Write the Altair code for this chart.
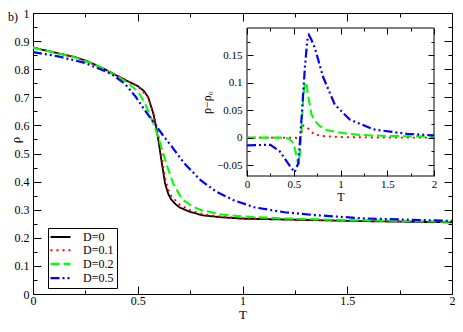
import altair as alt
import pandas as pd

SERIF = "Liberation Serif"
SERIES = ["D=0", "D=0.1", "D=0.2", "D=0.5"]
COLORS = ["#000000", "#ff0000", "#00ff00", "#0000ff"]
DASHES = [[1, 0], [2, 4], [9, 4], [9, 3, 2, 3, 2, 3]]
WIDTHS = [1.8, 2.2, 2.5, 2.5]

# ---- main panel: rho(T) ----
T_D0 = [0, 0.1, 0.2, 0.25, 0.3, 0.35, 0.4, 0.45, 0.5, 0.53, 0.55, 0.575, 0.59, 0.6,
        0.615, 0.63, 0.645, 0.66, 0.68, 0.7, 0.75, 0.81, 0.9, 1.0, 1.2, 1.4, 1.6, 1.8, 2.0]
RHO_D0 = [0.877, 0.860, 0.843, 0.831, 0.815, 0.797, 0.777, 0.758, 0.740, 0.722, 0.700,
          0.640, 0.585, 0.540, 0.465, 0.395, 0.357, 0.336, 0.320, 0.308, 0.292, 0.280,
          0.273, 0.268, 0.265, 0.262, 0.259, 0.257, 0.255]

T_D01 = [0, 0.1, 0.2, 0.3, 0.4, 0.5, 0.55, 0.575, 0.59, 0.6, 0.615, 0.63, 0.645, 0.66,
         0.7, 0.75, 0.81, 0.9, 1.0, 1.2, 1.5, 2.0]
RHO_D01 = [0.877, 0.860, 0.843, 0.815, 0.777, 0.740, 0.699, 0.642, 0.595, 0.558, 0.487,
           0.415, 0.372, 0.349, 0.318, 0.298, 0.284, 0.275, 0.270, 0.266, 0.261, 0.256]

T_D02 = [0, 0.1, 0.2, 0.3, 0.4, 0.45, 0.5, 0.53, 0.55, 0.58, 0.6, 0.62, 0.64, 0.67, 0.7,
         0.72, 0.76, 0.8, 0.9, 1.0, 1.2, 1.5, 2.0]
RHO_D02 = [0.877, 0.859, 0.842, 0.815, 0.775, 0.752, 0.722, 0.685, 0.652, 0.597, 0.553,
           0.505, 0.455, 0.392, 0.352, 0.333, 0.312, 0.299, 0.283, 0.276, 0.269, 0.263, 0.257]

T_D05 = [0, 0.125, 0.25, 0.375, 0.44, 0.49, 0.53, 0.58, 0.62, 0.66, 0.72, 0.8, 0.875,
         0.96, 1.06, 1.2, 1.34, 1.58, 1.9, 2.0]
RHO_D05 = [0.861, 0.845, 0.822, 0.783, 0.747, 0.702, 0.658, 0.607, 0.565, 0.527, 0.467,
           0.405, 0.364, 0.333, 0.308, 0.291, 0.281, 0.269, 0.262, 0.260]

# ---- inset: rho - rho0 ----
IT_D01 = [0, 0.25, 0.5, 0.55, 0.57, 0.6, 0.63, 0.67, 0.72, 0.8, 1.0, 1.5, 2.0]
IDR_D01 = [0, 0, 0, -0.001, -0.002, 0.022, 0.020, 0.014, 0.006, 0.003, 0.001, 0.0, 0.0]

IT_D02 = [0, 0.2, 0.4, 0.45, 0.5, 0.53, 0.55, 0.565, 0.578, 0.6, 0.615, 0.63, 0.645,
          0.66, 0.69, 0.73, 0.78, 0.85, 1.0, 1.2, 1.5, 2.0]
IDR_D02 = [0, 0, 0, -0.002, -0.010, -0.035, -0.050, -0.030, 0.0, 0.069, 0.095, 0.101,
           0.088, 0.070, 0.042, 0.030, 0.021, 0.014, 0.009, 0.005, 0.003, 0.002]

IT_D05 = [0, 0.25, 0.35, 0.46, 0.51, 0.55, 0.585, 0.62, 0.645, 0.663, 0.69, 0.727, 0.813,
          0.94, 1.1, 1.35, 1.71, 2.0]
IDR_D05 = [-0.014, -0.013, -0.025, -0.052, -0.063, -0.046, 0.039, 0.130, 0.178, 0.187,
           0.178, 0.163, 0.111, 0.060, 0.033, 0.015, 0.007, 0.004]

# ---- ticks / domains ----
X_MAJOR = [0, 0.5, 1, 1.5, 2]
X_MINOR = [0.25, 0.75, 1.25, 1.75]
Y_MAJOR = [0, 0.1, 0.2, 0.3, 0.4, 0.5, 0.6, 0.7, 0.8, 0.9, 1.0]
Y_MINOR = [0.05, 0.15, 0.25, 0.35, 0.45, 0.55, 0.65, 0.75, 0.85, 0.95]
IY_MAJOR = [-0.05, 0, 0.05, 0.1, 0.15]
IY_MINOR = [-0.025, 0.025, 0.075, 0.125, 0.175]
MAIN_X_DOMAIN = [0, 2]
MAIN_Y_DOMAIN = [0, 1]
INSET_X_DOMAIN = [0, 2]
INSET_Y_DOMAIN = [-0.07, 0.2]

# layout (pixels, plot coordinates; plot origin sits at page (33, 13))
W, H = 419, 281
INSET_XR = [214, 401]
INSET_YR = [163, 15]


def long(pairs):
    rows = []
    for name, ts, vs in pairs:
        for t, v in zip(ts, vs):
            rows.append({"series": name, "T": t, "v": v})
    return pd.DataFrame(rows)


main_df = long([("D=0", T_D0, RHO_D0), ("D=0.1", T_D01, RHO_D01),
                ("D=0.2", T_D02, RHO_D02), ("D=0.5", T_D05, RHO_D05)])
inset_df = long([("D=0.1", IT_D01, IDR_D01), ("D=0.2", IT_D02, IDR_D02),
                 ("D=0.5", IT_D05, IDR_D05)])
frame_df = pd.DataFrame({"x0": [INSET_X_DOMAIN[0]], "x1": [INSET_X_DOMAIN[1]],
                         "y0": [INSET_Y_DOMAIN[0]], "y1": [INSET_Y_DOMAIN[1]]})


def axis(orient, offset, size, values, labels=False, fs=12, fmt=".1~f", pad=0,
         title=None, tfs=13, tpad=0, **extra):
    kw = dict(orient=orient, offset=offset, tickSize=size, values=values, labels=labels,
              domain=False, grid=False, ticks=True, tickColor="black", tickWidth=1,
              zindex=1, title=title)
    if labels:
        kw.update(format=fmt, labelFontSize=fs, labelPadding=pad, labelFont=SERIF,
                  labelColor="black", labelFlush=False, labelOverlap=False)
    if title is not None:
        kw.update(titleFont=SERIF, titleFontSize=tfs, titlePadding=tpad,
                  titleFontWeight="normal", titleColor="black")
    kw.update(extra)
    return alt.Axis(**kw)


def sx_main():
    return alt.Scale(domain=MAIN_X_DOMAIN, nice=False, zero=False)


def sy_main():
    return alt.Scale(domain=MAIN_Y_DOMAIN, nice=False, zero=False)


def sx_in():
    return alt.Scale(domain=INSET_X_DOMAIN, range=INSET_XR, nice=False, zero=False)


def sy_in():
    return alt.Scale(domain=INSET_Y_DOMAIN, range=INSET_YR, nice=False, zero=False)


def legend():
    return alt.Legend(
        title=None, orient="none", legendX=15, legendY=215, direction="vertical",
        strokeColor="black", fillColor="white", padding=3, cornerRadius=0,
        labelFont=SERIF, labelFontSize=12, labelColor="black",
        symbolType="M-2,0H2", symbolSize=100, symbolStrokeWidth=2, symbolOffset=3,
        labelOffset=16, rowPadding=1.2,
    )


color = alt.Color("series:N", scale=alt.Scale(domain=SERIES, range=COLORS), legend=legend())
dash = alt.StrokeDash("series:N", scale=alt.Scale(domain=SERIES, range=DASHES), legend=legend())
width = alt.StrokeWidth("series:N", scale=alt.Scale(domain=SERIES, range=WIDTHS), legend=None)

# main panel layers
main_lines = alt.Chart(main_df).mark_line(clip=True).encode(
    x=alt.X("T:Q", scale=sx_main(),
            axis=axis("bottom", -8, 8, X_MAJOR, labels=True, pad=1, title="T", tpad=2)),
    y=alt.Y("v:Q", scale=sy_main(),
            axis=axis("left", -8, 8, Y_MAJOR, labels=True, pad=4, title="ρ",
                      titleX=-22, titleY=126.5, titleBaseline="alphabetic",
                      titleAlign="center", titleAngle=270)),
    color=color, strokeDash=dash, strokeWidth=width, order=alt.Order("T:Q"),
)
main_minor = alt.Chart(main_df).mark_point(opacity=0).encode(
    x=alt.X("T:Q", scale=sx_main(), axis=axis("bottom", -4, 4, X_MINOR)),
    y=alt.Y("v:Q", scale=sy_main(), axis=axis("left", -4, 4, Y_MINOR)),
)
main_mirror = alt.Chart(main_df).mark_point(opacity=0).encode(
    x=alt.X("T:Q", scale=sx_main(), axis=axis("top", -8, 8, X_MAJOR)),
    y=alt.Y("v:Q", scale=sy_main(), axis=axis("right", -8, 8, Y_MAJOR)),
)
main_mirror_minor = alt.Chart(main_df).mark_point(opacity=0).encode(
    x=alt.X("T:Q", scale=sx_main(), axis=axis("top", -4, 4, X_MINOR)),
    y=alt.Y("v:Q", scale=sy_main(), axis=axis("right", -4, 4, Y_MINOR)),
)

# inset layers
inset_frame = alt.Chart(frame_df).mark_rect(fill="white", stroke="black", strokeWidth=1).encode(
    x=alt.X("x0:Q", scale=sx_in(),
            axis=axis("bottom", -(H - INSET_YR[0] + 6), 6, X_MAJOR, labels=True, fs=11,
                      pad=2, title="T", tfs=12, tpad=2)),
    x2="x1:Q",
    y=alt.Y("y0:Q", scale=sy_in(),
            axis=axis("left", -(INSET_XR[0] + 6), 6, IY_MAJOR, labels=True, fs=11,
                      fmt=".2~f", pad=5, title="ρ−ρ₀", tfs=12, tpad=3)),
    y2="y1:Q",
)
inset_lines = alt.Chart(inset_df).mark_line(clip=False).encode(
    x=alt.X("T:Q", scale=sx_in(),
            axis=axis("bottom", -(H - INSET_YR[0] + 3), 3, X_MINOR)),
    y=alt.Y("v:Q", scale=sy_in(),
            axis=axis("left", -(INSET_XR[0] + 3), 3, IY_MINOR)),
    color=color, strokeDash=dash, strokeWidth=width, order=alt.Order("T:Q"),
)
inset_mirror = alt.Chart(inset_df).mark_point(opacity=0).encode(
    x=alt.X("T:Q", scale=sx_in(), axis=axis("top", -(INSET_YR[1] + 6), 6, X_MAJOR)),
    y=alt.Y("v:Q", scale=sy_in(), axis=axis("right", INSET_XR[1] - 6 - W, 6, IY_MAJOR)),
)
inset_mirror_minor = alt.Chart(inset_df).mark_point(opacity=0).encode(
    x=alt.X("T:Q", scale=sx_in(), axis=axis("top", -(INSET_YR[1] + 3), 3, X_MINOR)),
    y=alt.Y("v:Q", scale=sy_in(), axis=axis("right", INSET_XR[1] - 3 - W, 3, IY_MINOR)),
)

chart = alt.layer(
    main_minor, main_mirror, main_mirror_minor,
    inset_frame, inset_lines, inset_mirror, inset_mirror_minor,
    main_lines,
).resolve_scale(
    x="independent", y="independent"
).resolve_axis(
    x="independent", y="independent"
).properties(
    width=W, height=H,
    autosize=alt.AutoSizeParams(type="none"),
    padding={"left": 25, "top": 5, "right": 3, "bottom": 30},
    title=alt.TitleParams(text="b)", anchor="start", orient="top", frame="group",
                          offset=0, baseline="top", dx=-25, dy=17, font=SERIF,
                          fontSize=12, fontWeight="normal", color="black"),
).configure_view(
    stroke="black", strokeWidth=1
)

chart.save("out.html", embed_options={"renderer": "svg", "actions": False})
